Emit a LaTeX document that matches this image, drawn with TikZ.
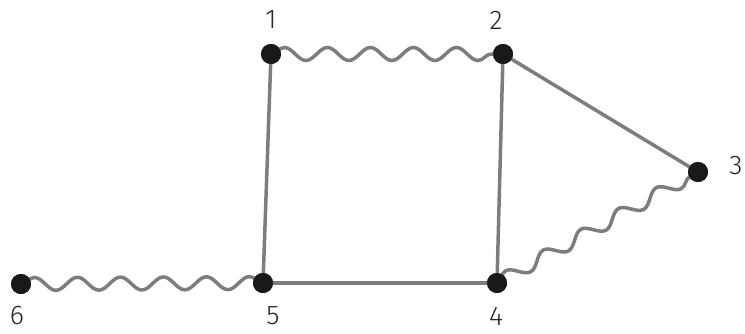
\documentclass[tikz,border=0pt]{standalone}
\usepackage{fontspec}
\setmainfont{Fira Sans}[UprightFont=* Light]
\usetikzlibrary{decorations.pathmorphing}
\definecolor{edgegray}{RGB}{125,125,125}
\begin{document}
\begin{tikzpicture}[x=1pt,y=-1pt,
  vertex/.style={circle,fill=black!90,inner sep=0pt,minimum size=20pt},
  lbl/.style={font=\fontsize{27}{27}\selectfont,text=black!85,inner sep=0pt},
  plain/.style={draw=edgegray,line width=3.5pt},
  wavy/.style={draw=edgegray,line width=3.5pt,decorate,decoration={snake,amplitude=6.5pt,segment length=43pt}}]
\useasboundingbox (0,0) rectangle (745,333);
\node[vertex] (n1) at (271,54) {};
\node[vertex] (n2) at (503,54) {};
\node[vertex] (n3) at (698,172) {};
\node[vertex] (n4) at (497,283) {};
\node[vertex] (n5) at (263,283) {};
\node[vertex] (n6) at (21,284) {};
\node[lbl] (l1) at (271,20) {1};
\node[lbl] (l2) at (496,20) {2};
\node[lbl] (l3) at (736,166) {3};
\node[lbl] (l4) at (496,316) {4};
\node[lbl] (l5) at (273,316) {5};
\node[lbl] (l6) at (17,316) {6};
\path[plain] (n1.center) -- (n5.center);
\path[plain] (n2.center) -- (n4.center);
\path[plain] (n2.center) -- (n3.center);
\path[plain] (n4.center) -- (n5.center);
\path[wavy] (n1.center) -- (n2.center);
\path[wavy] (n4.center) -- (n3.center);
\path[wavy] (n6.center) -- (n5.center);
\foreach \n in {n1,n2,n3,n4,n5,n6} \fill[black!90] (\n) circle (10pt);
\end{tikzpicture}
\end{document}
